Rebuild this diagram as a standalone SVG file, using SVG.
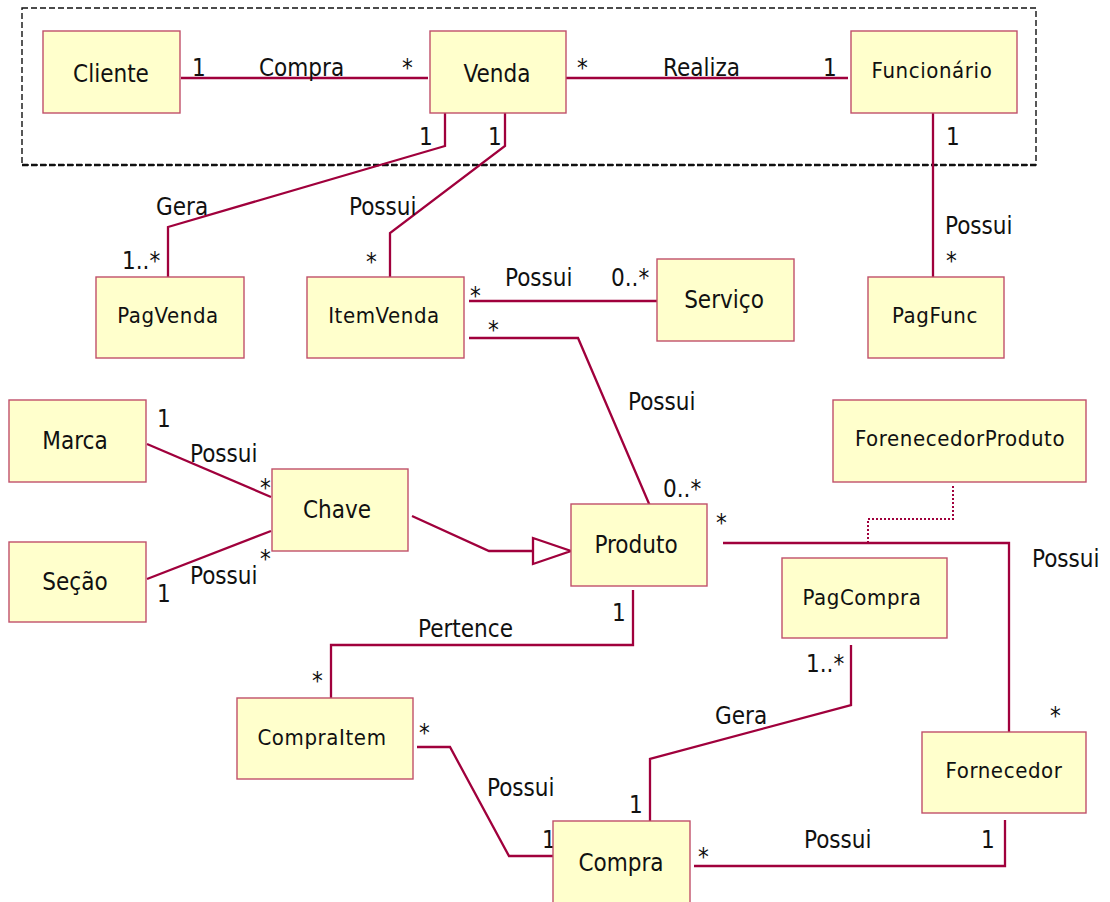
<svg xmlns="http://www.w3.org/2000/svg" width="1110" height="902" viewBox="0 0 1110 902">
  <style>
    .box { fill: #ffffcc; stroke: #c0506a; stroke-width: 1.4; }
    .name { font-family: "DejaVu Sans", "Liberation Sans", sans-serif; font-stretch: condensed; font-size: 24px; fill: #111; text-anchor: middle; }
    .small { font-size: 22px; letter-spacing: 0.6px; }
    .lbl { font-family: "DejaVu Sans", "Liberation Sans", sans-serif; font-stretch: condensed; font-size: 24px; fill: #111; }
    .link { fill: none; stroke: #a0003c; stroke-width: 2.3; }
    .dep { fill: none; stroke: #a0003c; stroke-width: 2; stroke-dasharray: 2 2; }
    .frame { fill: none; stroke: #111; stroke-width: 1.4; stroke-dasharray: 6 3; }
  </style>

  <!-- package boundary -->
  <g id="boundary">
    <rect class="frame" x="22" y="8" width="1014" height="157"/>
    <line x1="22" y1="165" x2="1036" y2="165" stroke="#111" stroke-width="2.6" stroke-dasharray="6 3"/>
  </g>

  <!-- associations -->
  <g id="connectors">
    <polyline class="link" points="181,78 428,78"/>
    <polyline class="link" points="566,78 848,78"/>
    <polyline class="link" points="445,112 445,146 168,227 168,277"/>
    <polyline class="link" points="505,112 505,146 390,233 390,277"/>
    <polyline class="link" points="933,113 933,277"/>
    <polyline class="link" points="469,301 657,301"/>
    <polyline class="link" points="469,338 578,338 650,506"/>
    <polyline class="link" points="147,444 271,497"/>
    <polyline class="link" points="147,579 271,531"/>
    <polyline class="link" points="412,516 489,551 533,551"/>
    <polygon points="533,538 571,551 533,564" fill="#ffffff" stroke="#a0003c" stroke-width="2.3"/>
    <polyline class="link" points="633,590 633,645 331,645 331,698"/>
    <polyline class="link" points="417,747 450,747 509,856 553,856"/>
    <polyline class="link" points="650,821 650,759 851,705 851,645"/>
    <polyline class="link" points="723,543 1009,543 1009,735"/>
    <polyline class="link" points="694,866 1005,866 1005,820"/>
    <polyline class="dep" points="953,486 953,519 868,519 868,543"/>
  </g>

  <!-- association labels -->
  <g id="labels">
    <text class="lbl" x="192" y="76">1</text>
    <text class="lbl" x="259" y="76">Compra</text>
    <text class="lbl" x="402" y="76">*</text>
    <text class="lbl" x="577" y="76">*</text>
    <text class="lbl" x="663" y="76">Realiza</text>
    <text class="lbl" x="823" y="76">1</text>
    <text class="lbl" x="419" y="145">1</text>
    <text class="lbl" x="488" y="145">1</text>
    <text class="lbl" x="946" y="145">1</text>
    <text class="lbl" x="156" y="215">Gera</text>
    <text class="lbl" x="122" y="269">1..*</text>
    <text class="lbl" x="349" y="215">Possui</text>
    <text class="lbl" x="366" y="270">*</text>
    <text class="lbl" x="945" y="234">Possui</text>
    <text class="lbl" x="946" y="269">*</text>
    <text class="lbl" x="470" y="304">*</text>
    <text class="lbl" x="505" y="286">Possui</text>
    <text class="lbl" x="611" y="286">0..*</text>
    <text class="lbl" x="488" y="338">*</text>
    <text class="lbl" x="628" y="410">Possui</text>
    <text class="lbl" x="663" y="497">0..*</text>
    <text class="lbl" x="157" y="427">1</text>
    <text class="lbl" x="190" y="462">Possui</text>
    <text class="lbl" x="260" y="496">*</text>
    <text class="lbl" x="260" y="567">*</text>
    <text class="lbl" x="190" y="584">Possui</text>
    <text class="lbl" x="157" y="602">1</text>
    <text class="lbl" x="716" y="531">*</text>
    <text class="lbl" x="1032" y="567">Possui</text>
    <text class="lbl" x="612" y="621">1</text>
    <text class="lbl" x="418" y="637">Pertence</text>
    <text class="lbl" x="312" y="689">*</text>
    <text class="lbl" x="419" y="741">*</text>
    <text class="lbl" x="487" y="796">Possui</text>
    <text class="lbl" x="542" y="848">1</text>
    <text class="lbl" x="629" y="813">1</text>
    <text class="lbl" x="715" y="724">Gera</text>
    <text class="lbl" x="806" y="672">1..*</text>
    <text class="lbl" x="1050" y="724">*</text>
    <text class="lbl" x="698" y="865">*</text>
    <text class="lbl" x="804" y="848">Possui</text>
    <text class="lbl" x="981" y="848">1</text>
  </g>

  <!-- classes -->
  <g id="cliente"><rect class="box" x="43" y="31" width="137" height="82"/><text class="name" x="111" y="82">Cliente</text></g>
  <g id="venda"><rect class="box" x="430" y="31" width="136" height="82"/><text class="name" x="497" y="82">Venda</text></g>
  <g id="funcionario"><rect class="box" x="851" y="31" width="166" height="82"/><text class="name small" x="932" y="78">Funcionário</text></g>
  <g id="pagvenda"><rect class="box" x="96" y="277" width="148" height="81"/><text class="name small" x="168" y="323">PagVenda</text></g>
  <g id="itemvenda"><rect class="box" x="307" y="277" width="157" height="81"/><text class="name small" x="384" y="323">ItemVenda</text></g>
  <g id="servico"><rect class="box" x="657" y="259" width="137" height="82"/><text class="name" x="724" y="308">Serviço</text></g>
  <g id="pagfunc"><rect class="box" x="868" y="277" width="136" height="81"/><text class="name small" x="935" y="323">PagFunc</text></g>
  <g id="marca"><rect class="box" x="9" y="400" width="137" height="82"/><text class="name" x="75" y="449">Marca</text></g>
  <g id="chave"><rect class="box" x="272" y="469" width="136" height="82"/><text class="name" x="337" y="518">Chave</text></g>
  <g id="secao"><rect class="box" x="9" y="542" width="137" height="80"/><text class="name" x="75" y="590">Seção</text></g>
  <g id="produto"><rect class="box" x="571" y="504" width="136" height="82"/><text class="name" x="636" y="553">Produto</text></g>
  <g id="fornecedorproduto"><rect class="box" x="833" y="400" width="253" height="82"/><text class="name small" x="960" y="446">ForenecedorProduto</text></g>
  <g id="pagcompra"><rect class="box" x="782" y="558" width="165" height="80"/><text class="name small" x="862" y="605">PagCompra</text></g>
  <g id="compraitem"><rect class="box" x="237" y="698" width="176" height="81"/><text class="name small" x="322" y="745">CompraItem</text></g>
  <g id="fornecedor"><rect class="box" x="922" y="732" width="164" height="81"/><text class="name small" x="1004" y="778">Fornecedor</text></g>
  <g id="compra"><rect class="box" x="553" y="821" width="137" height="90"/><text class="name" x="621" y="871">Compra</text></g>
</svg>
